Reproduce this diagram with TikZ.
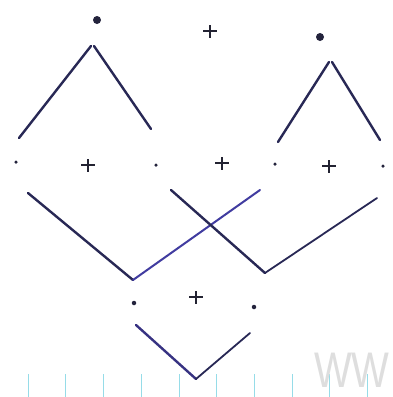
\documentclass[tikz,border=0pt]{standalone}
\usepackage{fontspec}
\usepackage{graphicx}
\newfontfamily\wmfont{Liberation Sans}
\definecolor{inkc}{RGB}{40,40,85}
\definecolor{blueinkc}{RGB}{65,60,160}
\definecolor{midinkc}{RGB}{55,50,130}
\definecolor{dotc}{RGB}{35,35,60}
\definecolor{plusc}{RGB}{35,35,50}
\definecolor{tickc}{RGB}{150,220,232}
\begin{document}
\begin{tikzpicture}[x=1pt,y=-1pt,
  ink/.style={line width=2.4pt,draw=inkc,line cap=round},
  blueink/.style={line width=2pt,draw=blueinkc,line cap=round},
  bigdot/.style={circle,fill=dotc,inner sep=0pt,minimum size=8pt},
  smalldot/.style={circle,fill=dotc,inner sep=0pt,minimum size=3.5pt},
  plus/.style={inner sep=0pt,minimum size=14pt,
    path picture={\draw[line width=2pt,plusc]
      ([xshift=-7pt]path picture bounding box.center)--([xshift=7pt]path picture bounding box.center)
      ([yshift=6pt]path picture bounding box.center)--([yshift=-7pt]path picture bounding box.center);}},
  tick/.style={line width=0.6pt,draw=tickc}]
\useasboundingbox (0,0) rectangle (393,397);
\fill[white] (0,0) rectangle (393,397);
% ruler ticks
\foreach \i in {0,...,9}{\draw[tick] (28+37.7*\i,374) -- (28+37.7*\i,397);}
% watermark
\node[anchor=west,text=black!13,inner sep=0pt] (wm) at (314,370) {\scalebox{0.8}[1]{\wmfont\fontsize{50}{50}\selectfont WW}};
% top row
\node[bigdot] (d1) at (97,20) {};
\node[plus] (p0) at (210,31) {};
\node[bigdot] (d2) at (320,37) {};
% top left triangle
\coordinate (a1) at (91,46);
\coordinate (a1l) at (19,138);
\coordinate (a1r) at (151,129);
\draw[ink] (a1l) -- (a1) ;
\draw[ink] ([xshift=3pt]a1) -- (a1r);
% top right triangle
\coordinate (a2) at (329,62);
\coordinate (a2l) at (278,142);
\coordinate (a2r) at (380,140);
\draw[ink] (a2l) -- (a2);
\draw[ink] ([xshift=3pt]a2) -- (a2r);
% middle row
\node[smalldot] (m1) at (16,162) {};
\node[plus] (p1) at (88,165) {};
\node[smalldot] (m2) at (156,165) {};
\node[plus] (p2) at (222,163) {};
\node[smalldot] (m3) at (275,164) {};
\node[plus] (p3) at (329,166) {};
\node[smalldot] (m4) at (383,166) {};
% lower crossing Vs
\coordinate (b1) at (28,193);
\coordinate (v1) at (133,280);
\coordinate (b2) at (260,190);
\coordinate (b3) at (171,190);
\coordinate (v2) at (265,273);
\coordinate (b4) at (377,198);
\draw[ink] (b1) -- (v1);
\draw[blueink] (v1) -- (b2);
\draw[ink] (b3) -- (v2);
\draw[ink,line width=1.8pt] (v2) -- (b4);
% bottom row
\node[smalldot,minimum size=4.5pt] (n1) at (134,303) {};
\node[plus] (p4) at (196,297) {};
\node[smalldot,minimum size=4.5pt] (n2) at (254,307) {};
% bottom V
\coordinate (c1) at (136,325);
\coordinate (c0) at (196,379);
\coordinate (c2) at (250,333);
\draw[ink,draw=midinkc] (c1) -- (c0);
\draw[ink,line width=1.8pt] (c0) -- (c2);
\end{tikzpicture}
\end{document}
